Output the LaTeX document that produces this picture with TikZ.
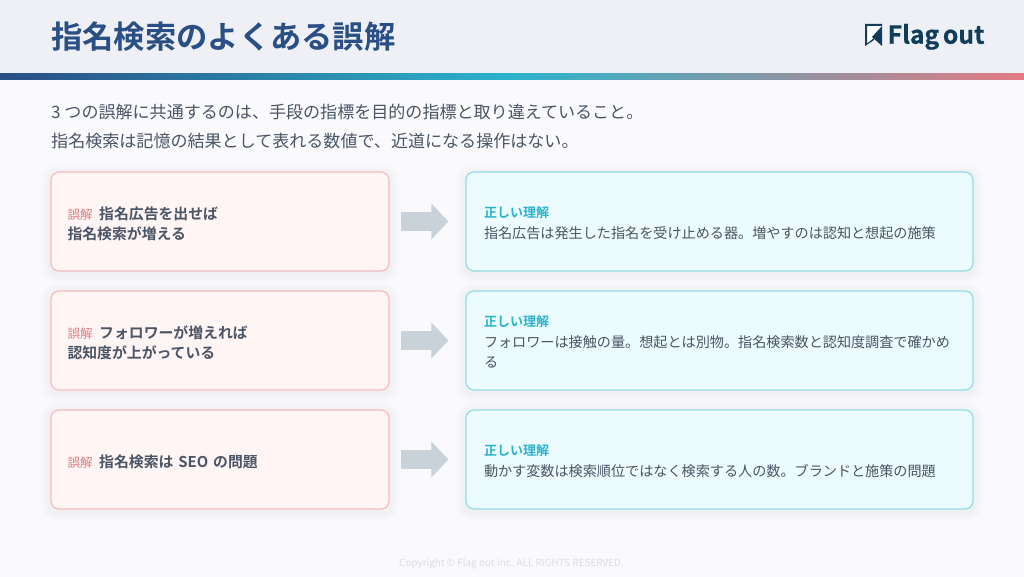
\documentclass[tikz,border=0pt]{standalone}
\usepackage{fontspec}
\setmainfont[BoldFont={Noto Sans CJK JP Bold}]{Noto Sans CJK JP}
\newfontfamily\logofont[FakeBold=0.6]{Noto Sans CJK JP Bold}
\usetikzlibrary{arrows.meta,backgrounds,positioning}
\definecolor{pagebg}{HTML}{FAFAFD}
\definecolor{headbg}{HTML}{EEF0F5}
\definecolor{navy}{HTML}{2A4F85}
\definecolor{teal}{HTML}{2BB3CB}
\definecolor{rose}{HTML}{E27A82}
\definecolor{logoblue}{HTML}{0F3D5A}
\definecolor{bodytxt}{HTML}{4A5565}
\definecolor{wrongfill}{HTML}{FFF5F5}
\definecolor{wrongline}{HTML}{F5BBC0}
\definecolor{rightfill}{HTML}{EBFBFE}
\definecolor{rightline}{HTML}{95DAE7}
\definecolor{arrowgray}{HTML}{CAD2D9}
\definecolor{foot}{HTML}{DADDE5}
\newcommand{\fs}[2][20]{\fontsize{#2}{#1}\selectfont}
\newcommand{\wrongtag}{{\fs{12.6}\mdseries\color{rose}誤解}\hspace{6.5pt}}
\newcommand{\righttag}{{\fs[20.5]{13}\bfseries\color{teal}正しい理解}}
\begin{document}
\begin{tikzpicture}[x=1pt,y=1pt,
				wrong/.style={draw=wrongline,fill=wrongfill,line width=1.2pt,rounded corners=8pt,
					minimum width=338pt,minimum height=99pt,inner xsep=16pt,inner ysep=0pt,
					text width=305pt,align=left,text=bodytxt,font=\fs{14.85}\bfseries,
					execute at begin node=\rule{0pt}{18pt}},
				right/.style={draw=rightline,fill=rightfill,line width=1.2pt,rounded corners=8pt,
					minimum width=507pt,minimum height=99pt,inner xsep=18pt,inner ysep=0pt,
					text width=471pt,align=left,text=bodytxt,font=\fs[20.5]{14.12},
					execute at begin node=\rule{0pt}{14.6pt}},
				bigarrow/.style={draw=arrowgray,line width=19pt,shorten <=11.5pt,shorten >=17pt,
					-{Triangle[length=17pt,width=35pt]}},
				lead/.style={anchor=base west,inner sep=0pt,text=bodytxt,font=\fs{17.05}}]
			\useasboundingbox (0,0) rectangle (1024,-577);
			% header
			\fill[headbg] (0,0) rectangle (1024,-73.5);
			\shade[left color=navy,right color=teal] (0,-73.5) rectangle (512,-80);
			\shade[left color=teal,right color=rose] (512,-73.5) rectangle (1024,-80);
			\node [anchor=base west,inner sep=0pt,text=navy,font=\fs{31.3}\bfseries] (title) at (51,-49) {指名検索のよくある誤解};
			% logo
			\fill[white] (865,-24) -- (882,-24) -- (882,-46) -- (874,-40) -- (865,-46) -- cycle;
			\fill[logoblue] (865,-24) -- (882,-24) -- (882,-26) -- (867,-26) -- (867,-43.5) -- (874,-38) -- (874,-40) -- (865,-46) -- cycle;
			\fill[logoblue] (882,-26) -- (882,-46) -- (872,-37) -- cycle;
			\node [anchor=base west,inner sep=0pt,text=logoblue,font=\fs{24.7}\logofont] (logo) at (887.5,-43.7) {Flag\hspace{-2pt} out};
			% lead text
			\node [lead] (lead1) at (51,-119) {3 つの誤解に共通するのは、手段の指標を目的の指標と取り違えていること。};
			\node [lead] (lead2) at (51,-148) {指名検索は記憶の結果として表れる数値で、近道になる操作はない。};
			% cards
			\node [wrong] (wrong1) at (220,-221.5) {\wrongtag 指名広告を出せば\\指名検索が増える};
			\node [right] (right1) at (719.5,-221.5) {\righttag\\指名広告は発生した指名を受け止める器。増やすのは認知と想起の施策};
			\node [wrong] (wrong2) at (220,-340.5) {\wrongtag フォロワーが増えれば\\認知度が上がっている};
			\node [right] (right2) at (719.5,-340.5) {\righttag\\フォロワーは接触の量。想起とは別物。指名検索数と認知度調査で確かめ\\る};
			\node [wrong] (wrong3) at (220,-459.5) {\wrongtag 指名検索は SEO の問題};
			\node [right] (right3) at (719.5,-459.5) {\righttag\\動かす変数は検索順位ではなく検索する人の数。ブランドと施策の問題};
			\draw [bigarrow] (wrong1) -- (right1);
			\draw [bigarrow] (wrong2) -- (right2);
			\draw [bigarrow] (wrong3) -- (right3);
			% footer
			\node [anchor=base,inner sep=0pt,text=foot,font=\fs{9.9}] (copy) at (511.5,-566) {Copyright © Flag out Inc. ALL RIGHTS RESERVED.};
			% page and card shadows
			\begin{scope}[on background layer]
				\fill[pagebg] (0,0) rectangle (1024,-577);
				\foreach \n in {wrong1,right1,wrong2,right2,wrong3,right3}
					\foreach \s in {1,...,10}
						\fill[black,opacity=.002,rounded corners=\s pt+6pt] ([shift={(-\s pt,-\s pt-2pt)}]\n.south west) rectangle ([shift={(\s pt,\s pt-2pt)}]\n.north east);
			\end{scope}
		\end{tikzpicture}
\end{document}
